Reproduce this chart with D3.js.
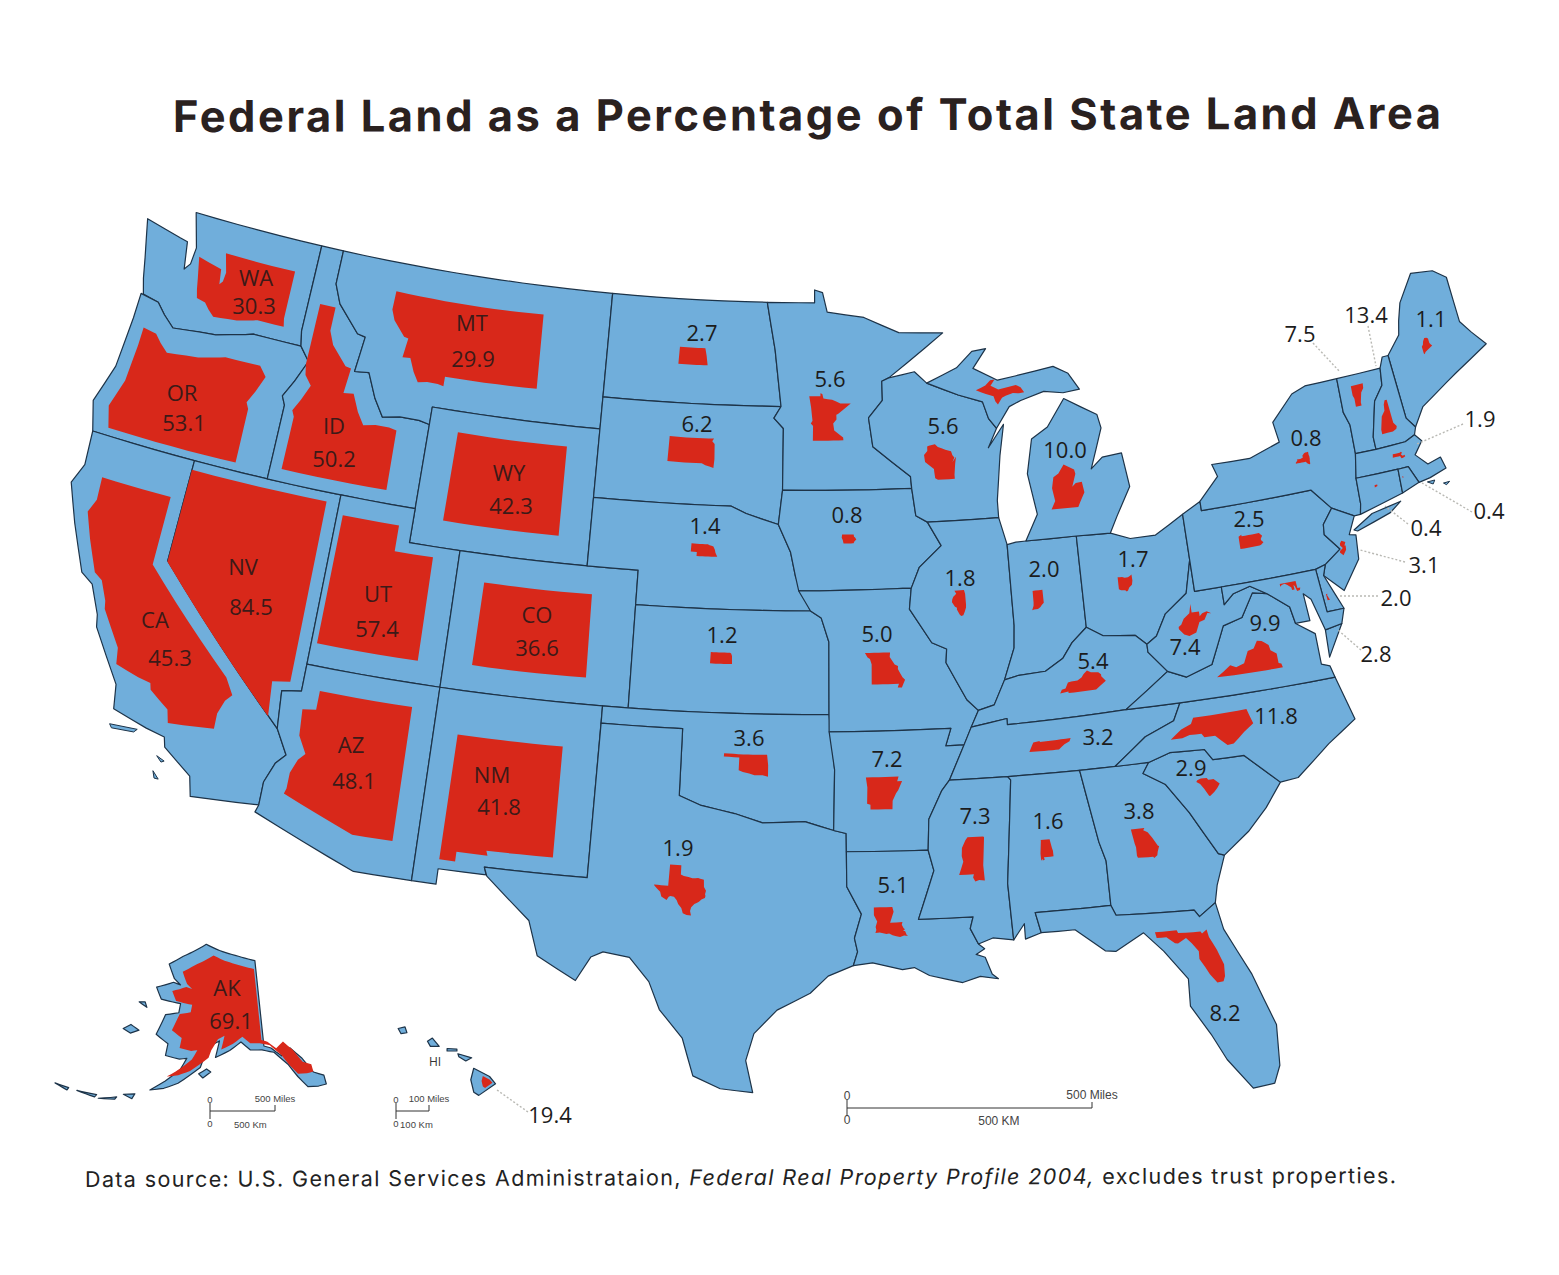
<!DOCTYPE html>
<html><head><meta charset="utf-8">
<script src="https://cdn.jsdelivr.net/npm/d3@7/dist/d3.min.js"></script>
<style>html,body{margin:0;background:#fff}svg{display:block}</style></head><body>
<svg id="c" width="1559" height="1275"></svg>
<script>
// ---- values
const stateCodes = ["WA","OR","CA","NV","ID","MT","WY","UT","CO","AZ","NM","ND","SD","NE","KS","OK","TX","MN","IA","MO","AR","LA","WI","IL","IN","OH","MI","KY","TN","MS","AL","GA","FL","SC","NC","VA","WV","PA","NY","ME","VT","NH","MA","CT","RI","NJ","DE","MD","AK","HI"];
const federalPct = [30.3,53.1,45.3,84.5,50.2,29.9,42.3,57.4,36.6,48.1,41.8,2.7,6.2,1.4,1.2,3.6,1.9,5.6,0.8,5.0,7.2,5.1,5.6,1.8,2.0,1.7,10.0,5.4,3.2,7.3,1.6,3.8,8.2,2.9,11.8,9.9,7.4,2.5,0.8,1.1,7.5,13.4,1.9,0.4,0.4,3.1,2.0,2.8,69.1,19.4];
const namedStates = ["WA","OR","CA","NV","ID","MT","WY","UT","CO","AZ","NM","AK"];

// ---- state outlines as lon,lat rings
const outlines = {
WA:["-124.7,48.4 -123.1,48.15 -122.75,48.1 -122.55,47.3 -122.35,47.5 -122.3,48.0 -122.75,49 -117.03,49 -117.04,46.42 -116.92,45.99 -118.98,46 -119.3,45.93 -120.5,45.7 -121.2,45.65 -122.3,45.55 -122.8,45.85 -123.2,46.15 -123.9,46.25 -124.1,46.7 -124.3,47.3"],
OR:["-124,46.25 -123.2,46.15 -122.8,45.85 -122.3,45.55 -121.2,45.65 -120.5,45.7 -119.3,45.93 -118.98,46 -116.92,45.99 -116.47,45.6 -116.85,44.95 -117.2,44.45 -117.03,44.2 -117.03,42 -124.2,42 -124.55,42.85 -124.1,44 -124,45.5"],
CA:["-124.2,42 -120,42 -120,39 -114.63,35 -114.13,34.3 -114.45,34 -114.72,33.4 -114.72,32.72 -117.12,32.53 -117.3,33.1 -118.4,33.75 -118.5,34.03 -119.2,34.15 -120.5,34.45 -120.65,35.15 -121.9,36.6 -122,36.95 -122.5,37.75 -123,38 -123.8,39.3 -124.4,40.4 -124.1,41"],
NV:["-120,42 -114.04,42 -114.04,36.2 -114.75,36.1 -114.63,35 -120,39"],
ID:["-117.03,49 -116.05,49 -116.05,48 -115.7,47.45 -114.7,46.7 -114.35,46.65 -114.5,45.6 -113.9,45.65 -113.45,44.95 -113,44.45 -112.3,44.55 -111.5,44.55 -111.05,44.48 -111.05,42 -117.03,42 -117.03,44.2 -117.2,44.45 -116.85,44.95 -116.47,45.6 -116.92,45.99 -117.04,46.42"],
MT:["-116.05,49 -104.05,49 -104.05,45 -111.05,45 -111.05,44.48 -111.5,44.55 -112.3,44.55 -113,44.45 -113.45,44.95 -113.9,45.65 -114.5,45.6 -114.35,46.65 -114.7,46.7 -115.7,47.45 -116.05,48"],
WY:["-111.05,45 -104.05,45 -104.05,41 -111.05,41"],
UT:["-114.04,42 -111.05,42 -111.05,41 -109.05,41 -109.05,37 -114.04,37"],
CO:["-109.05,41 -102.05,41 -102.05,37 -109.05,37"],
AZ:["-114.04,37 -109.05,37 -109.05,31.33 -111.07,31.33 -114.8,32.5 -114.72,32.72 -114.72,33.4 -114.45,34 -114.13,34.3 -114.63,35 -114.75,36.1 -114.04,36.2"],
NM:["-109.05,37 -103,37 -103.04,32 -106.62,32 -106.53,31.78 -108.2,31.78 -108.2,31.33 -109.05,31.33"],
ND:["-104.05,49 -97.23,49 -96.85,47.6 -96.56,45.94 -104.05,45.94"],
SD:["-104.05,45.94 -96.56,45.94 -96.85,45.6 -96.45,45.3 -96.45,43.5 -96.6,42.5 -97.9,42.8 -98.5,43 -104.05,43"],
NE:["-104.05,43 -98.5,43 -97.9,42.8 -96.6,42.5 -96.1,41.7 -95.9,41 -95.31,40 -102.05,40 -102.05,41 -104.05,41"],
KS:["-102.05,40 -95.31,40 -94.9,39.8 -94.61,39.1 -94.62,37 -102.05,37"],
OK:["-103,37 -94.62,37 -94.43,35.4 -94.48,33.64 -95.5,33.9 -97,33.85 -98,34.1 -99.2,34.3 -100,34.56 -100,36.5 -103,36.5"],
TX:["-106.62,32 -103.04,32 -103,36.5 -100,36.5 -100,34.56 -99.2,34.3 -98,34.1 -97,33.85 -95.5,33.9 -94.48,33.64 -94.04,33.55 -94.04,32 -93.55,31.2 -93.8,30.5 -93.7,30.1 -93.85,29.7 -94.7,29.4 -95.3,28.9 -96.4,28.4 -97.15,27.7 -97.4,26.9 -97.15,25.96 -98.2,26.05 -99.1,26.4 -99.5,27.5 -100.3,28.3 -100.7,29.1 -101.4,29.77 -102.3,29.88 -102.7,29.7 -103.15,28.98 -104.5,29.6 -104.9,30.6 -106.5,31.75"],
MN:["-97.23,49 -95.15,49 -95.15,49.38 -94.8,49.3 -94.6,48.72 -93,48.55 -91.5,48.07 -89.6,48 -92,46.75 -92.3,46.66 -92.3,46.1 -92.9,45.6 -92.75,44.75 -91.25,43.85 -91.22,43.5 -96.45,43.5 -96.45,45.3 -96.85,45.6 -96.56,45.94 -96.85,47.6"],
IA:["-96.45,43.5 -91.22,43.5 -91.1,42.7 -90.65,42.5 -90.15,41.8 -91.05,41.2 -91.4,40.6 -91.73,40.61 -95.77,40.58 -95.9,41 -96.1,41.7 -96.6,42.5"],
MO:["-95.77,40.58 -91.73,40.61 -91.4,40.6 -91.5,40 -90.7,39 -90.15,38.8 -90.2,38.4 -89.5,37.3 -89.1,36.97 -89.4,36.5 -89.7,36 -90.37,36 -90.15,36.5 -94.62,36.5 -94.62,37 -94.61,39.1 -94.9,39.8 -95.31,40"],
AR:["-94.62,36.5 -90.15,36.5 -90.37,36 -89.7,36 -90.3,35 -90.6,34.7 -91.1,33.9 -91.17,33 -94.04,33.02 -94.04,33.55 -94.48,33.64 -94.43,35.4"],
LA:["-94.04,33.02 -91.17,33 -91,32.4 -91.6,31 -89.73,31 -89.85,30.66 -89.6,30.2 -89.4,30.05 -89.7,29.9 -89.4,29.8 -89.2,29.3 -89,29.15 -89.6,29.25 -90.2,29.1 -91.3,29.35 -91.8,29.6 -92.2,29.55 -93.2,29.77 -93.85,29.7 -93.7,30.1 -93.8,30.5 -93.55,31.2 -94.04,32"],
MS:["-91.17,33 -91.1,33.9 -90.6,34.7 -90.3,35 -88.2,35 -88.1,34.9 -88.47,31.9 -88.4,30.25 -89.1,30.35 -89.6,30.2 -89.85,30.66 -89.73,31 -91.6,31 -91,32.4"],
AL:["-88.2,35 -85.6,35 -85.18,32.87 -85,32.3 -85,31 -87.6,31 -87.45,30.4 -88,30.25 -88,30.7 -88.4,30.25 -88.47,31.9 -88.1,34.9"],
GA:["-85.6,35 -83.1,35 -83.35,34.7 -82.6,34.3 -81.9,33.4 -81.1,32.1 -80.9,32.03 -81.3,31.2 -81.45,30.7 -82.05,30.36 -82.2,30.57 -84.86,30.7 -85,31 -85,32.3 -85.18,32.87"],
FL:["-87.6,31 -85,31 -84.86,30.7 -82.2,30.57 -82.05,30.36 -81.45,30.7 -81.3,29.9 -80.6,28.5 -80.05,26.9 -80.15,25.7 -80.4,25.2 -81.1,25.15 -81.8,26.1 -82.2,26.9 -82.75,27.8 -82.7,28.6 -83.4,29.5 -84,30.1 -85,29.65 -85.35,29.7 -86.3,30.4 -87.45,30.4"],
SC:["-83.1,35 -82.3,35.2 -81.05,35.15 -80.8,34.82 -79.67,34.8 -78.55,33.86 -79.2,33.2 -79.95,32.6 -80.9,32.03 -81.1,32.1 -81.9,33.4 -82.6,34.3 -83.35,34.7"],
NC:["-84.32,35 -83.1,35 -82.3,35.2 -81.05,35.15 -80.8,34.82 -79.67,34.8 -78.55,33.86 -77.9,33.9 -76.6,34.7 -75.5,35.25 -75.9,36.55 -81.68,36.59 -82,36.1 -83.1,35.75"],
TN:["-90.3,35 -88.2,35 -85.6,35 -84.32,35 -83.1,35.75 -82,36.1 -81.68,36.59 -83.68,36.6 -88.07,36.5 -88.07,36.68 -89.4,36.5 -89.7,36"],
KY:["-89.4,36.5 -88.07,36.68 -88.07,36.5 -83.68,36.6 -81.97,37.54 -82.6,38.17 -82.6,38.4 -83,38.7 -84.2,38.8 -84.8,39.1 -85.4,38.7 -85.8,38.28 -86.5,37.95 -87.5,37.9 -88.05,37.8 -88.5,37.1 -89.1,36.97"],
IL:["-90.65,42.5 -87.8,42.5 -87.55,41.7 -87.53,39.35 -87.6,38.7 -88.05,37.8 -88.5,37.1 -89.1,36.97 -89.5,37.3 -90.2,38.4 -90.15,38.8 -90.7,39 -91.5,40 -91.4,40.6 -91.05,41.2 -90.15,41.8"],
IN:["-87.55,41.7 -87.2,41.75 -86.8,41.76 -84.8,41.76 -84.8,39.1 -85.4,38.7 -85.8,38.28 -86.5,37.95 -87.5,37.9 -88.05,37.8 -87.6,38.7 -87.53,39.35"],
OH:["-84.8,41.76 -83.45,41.73 -82.7,41.5 -81.7,41.5 -80.52,41.98 -80.52,40.64 -80.85,39.7 -81.75,39.2 -82.2,38.6 -82.6,38.4 -83,38.7 -84.2,38.8 -84.8,39.1"],
MI:["-86.8,41.76 -84.8,41.76 -83.45,41.73 -83.1,42.2 -82.45,43 -82.6,44 -83.4,43.95 -83.9,43.65 -83.3,44.8 -83.4,45.2 -84.7,45.78 -85.5,45 -86.2,44.7 -86.5,43.7 -86.25,42.5",
    "-90.4,46.55 -89.1,46.95 -88.4,47.4 -87.8,47.45 -88.4,46.9 -87.4,46.5 -85,46.75 -84.4,46.5 -84,46 -84.7,45.95 -85.5,46.05 -86.5,45.85 -87,45.7 -87.6,45.1 -87.9,45.4 -88.1,45.9 -89.1,46.15"],
WI:["-92.3,46.66 -92,46.75 -90.9,46.9 -90.4,46.55 -89.1,46.15 -88.1,45.9 -87.9,45.4 -87.6,45.1 -88,44.55 -87.3,45.2 -87.55,44.3 -87.8,43 -87.8,42.5 -90.65,42.5 -91.1,42.7 -91.22,43.5 -91.25,43.85 -92.75,44.75 -92.9,45.6 -92.3,46.1"],
PA:["-80.52,41.98 -79.76,42.27 -79.76,42 -75.35,42 -74.7,41.36 -75.15,40.95 -75.2,40.65 -74.72,40.15 -75.4,39.8 -75.8,39.72 -80.52,39.72"],
NY:["-79.76,42 -79.76,42.27 -78.9,42.9 -79.05,43.27 -77.5,43.25 -76.2,43.55 -76.3,44.15 -75.3,44.85 -74.7,45 -73.35,45 -73.4,44 -73.25,43.6 -73.3,42.75 -73.5,42.05 -73.55,41.3 -73.65,41 -73.9,41 -74.7,41.36 -75.35,42",
    "-74.03,40.6 -73.2,40.95 -72,41.1 -72.5,40.85 -73.9,40.55"],
NJ:["-74.7,41.36 -73.9,41 -74.25,40.5 -74,40.45 -74.1,39.75 -74.9,38.95 -75.55,39.5 -75.4,39.8 -74.72,40.15 -75.2,40.65 -75.15,40.95"],
DE:["-75.8,39.72 -75.4,39.8 -75.55,39.5 -75.05,38.45 -75.7,38.45"],
MD:["-79.48,39.72 -75.8,39.72 -75.7,38.45 -75.05,38.45 -75.25,38.03 -75.9,37.95 -76.2,38.9 -76.45,39.1 -76.4,38.3 -76.95,38.3 -77.05,38.8 -77.5,39.1 -77.8,39.3 -78.4,39.6 -79.07,39.47 -79.48,39.2"],
VA:["-83.68,36.6 -81.68,36.59 -75.9,36.55 -76,36.9 -76.3,37 -76.3,37.9 -76.95,38.3 -77.05,38.8 -77.5,39.1 -77.8,39.3 -78.35,39.4 -78.9,38.75 -79.65,38.6 -80.3,37.55 -81.3,37.3 -81.97,37.54",
    "-75.25,38.03 -75.9,37.95 -75.95,37.15"],
WV:["-82.6,38.17 -81.97,37.54 -81.3,37.3 -80.3,37.55 -79.65,38.6 -78.9,38.75 -78.35,39.4 -77.8,39.3 -78.4,39.6 -79.07,39.47 -79.48,39.2 -79.48,39.72 -80.52,39.72 -80.52,40.64 -80.85,39.7 -81.75,39.2 -82.2,38.6 -82.6,38.4"],
VT:["-73.35,45 -71.5,45 -71.6,44.5 -72.05,44.1 -72.45,43.1 -72.46,42.73 -73.3,42.75 -73.25,43.6 -73.4,44"],
NH:["-71.5,45 -71.3,45.3 -71.05,45.3 -70.98,43.4 -70.7,43.08 -70.82,42.87 -71.25,42.74 -72.46,42.73 -72.45,43.1 -72.05,44.1 -71.6,44.5"],
ME:["-71.05,45.3 -70.4,45.8 -70.25,46.2 -70,46.7 -69.23,47.45 -68.3,47.35 -67.8,47.05 -67.8,45.7 -67.45,45.3 -67,44.85 -68.5,44.3 -69,44.1 -70.2,43.6 -70.7,43.08 -70.98,43.4"],
MA:["-73.5,42.05 -73.3,42.75 -72.46,42.73 -71.25,42.74 -70.82,42.87 -70.6,42.65 -71,42.3 -70.6,41.95 -70.05,42.05 -69.95,41.7 -70.65,41.55 -71.12,41.5 -71.38,42.02 -71.8,42.02"],
RI:["-71.8,42.02 -71.38,42.02 -71.12,41.5 -71.85,41.32"],
CT:["-73.5,42.05 -71.8,42.02 -71.85,41.32 -73.65,41 -73.55,41.3"],
AK:["-141,69.6 -141,60.3 -139.5,60 -137.5,59 -135.5,59.7 -133.5,58.4 -131.8,56.6 -130,56 -130,55 -131.5,55 -133.5,55.2 -135,56.5 -136.5,58 -139,59.5 -141.5,59.9 -144,60 -146,60.9 -148.5,60 -151.5,59.2 -150.8,61 -152.5,60.5 -154,59 -154.5,58 -156.5,57 -158.5,56 -161,55.2 -163.5,54.7 -161,56 -158.5,57.5 -157.5,58.8 -159,58.6 -162,58.7 -162,60 -165,60.7 -164,63 -161,63.5 -161,64.5 -166,64.5 -168,65.6 -164,66.6 -162,66.5 -164,67 -166.5,68.4 -163,69.6 -156.5,71.35 -152,70.8 -146,70.2",
    "-154.7,57.3 -153.2,57.9 -152.3,57.6 -153.8,56.9","-172.3,60.2 -170.5,60 -168.9,60.6 -171,60.9","-171,63.5 -168.8,63.2 -169.6,63.7","-168,53.5 -166,53.9 -166.3,53.3","-176,52.1 -172.5,52.5 -172.7,52.2","-180,51.8 -177.5,52 -177.6,51.7","-172,52.2 -169,53 -169.2,52.7"],
HI:["-155.9,20.25 -155.1,19.85 -154.8,19.5 -155.65,18.95 -155.9,19.1 -156.05,19.7",
    "-156.7,20.95 -156,20.75 -156.3,20.6 -156.65,20.8","-157.25,21.2 -156.75,21.17 -156.75,21.08 -157.25,21.08","-158.25,21.55 -158,21.7 -157.65,21.3 -158.1,21.3","-159.75,22.15 -159.4,22.23 -159.3,21.95 -159.6,21.9"],
};
const offshore = ["-120.5,34 -119.5,34.05 -119.6,33.95 -120.4,33.9","-118.6,33.45 -118.3,33.35 -118.4,33.3","-118.6,33 -118.35,32.8 -118.5,32.8","-70.8,41.45 -70.5,41.45 -70.6,41.35","-70.2,41.3 -69.95,41.3 -70.1,41.23"];

// ---- layout: where each red inset and label sits on the page
const insetCentres = {WA:[246,290],OR:[187,395],CA:[160,603],NV:[247,593],ID:[339,397],MT:[468,340],WY:[505,484],UT:[375,588],CO:[532,630],AZ:[348,766],NM:[501,798],ND:[693,356],SD:[691,452],NE:[704,550],KS:[721,658],OK:[746,765],TX:[680,890],MN:[830,417],IA:[849,539],MO:[885,670],AR:[884,793],LA:[891,922],WI:[940,462],IL:[959,603],IN:[1038,600],OH:[1125,583],MI:[1068,487],KY:[1083,682],TN:[1050,745],MS:[972,859],AL:[1047,850],GA:[1145,843],FL:[1190,956],SC:[1208,787],NC:[1212,727],VA:[1250,659],WV:[1195,620],PA:[1251,541],NY:[1303,458],ME:[1427,346],VT:[1357,395],NH:[1389,417],MA:[1399,455],CT:[1376,486],RI:[1403,477],NJ:[1343,548],DE:[1328,597],MD:[1290,586],AK:[240,1016],HI:[487,1082]};
const upperMichiganCentre = [1000,392];
const labelSpots = {WA:[254,305],OR:[184,422],CA:[170,657],NV:[251,606],ID:[334,458],MT:[473,358],WY:[511,505],UT:[377,628],CO:[537,647],AZ:[354,780],NM:[499,806],AK:[231,1020],ND:[702,332],SD:[697,423],NE:[705,525],KS:[722,634],OK:[749,737],TX:[678,847],MN:[830,378],IA:[847,514],MO:[877,633],AR:[887,758],LA:[893,884],WI:[943,425],IL:[960,577],IN:[1044,568],OH:[1133,558],MI:[1065,449],KY:[1093,660],TN:[1098,736],MS:[975,815],AL:[1048,820],GA:[1139,810],FL:[1225,1012],SC:[1191,767],NC:[1276,715],VA:[1265,622],WV:[1185,646],PA:[1249,518],NY:[1306,437],ME:[1431,318],VT:[1300,333],NH:[1366,314],MA:[1480,418],RI:[1489,510],CT:[1426,527],NJ:[1424,564],DE:[1396,597],MD:[1376,653],HI:[550,1114]};
const nameSpots = {WA:[256,277],OR:[182,392],CA:[155,619],NV:[243,566],ID:[334,425],MT:[472,322],WY:[509,472],UT:[378,593],CO:[537,614],AZ:[351,744],NM:[492,774],AK:[227,987]};
const leaders = [[1313,343,1340,372],[1368,326,1376,366],[1463,424,1417,444],[1472,512,1422,483],[1408,524,1385,506],[1405,562,1360,550],[1378,596,1338,596],[1361,650,1338,630],[528,1112,497,1090]];

const BLUE="#70aedb", RED="#d8281a", INK="#1d3348";
const ring = s => s.trim().split(/\s+/).map(p=>p.split(",").map(Number));
function dense(r){ // follow parallels and meridians rather than great circles
  const out=[]; r.forEach((p,i)=>{const q=r[(i+1)%r.length];const n=Math.ceil(Math.max(Math.abs(q[0]-p[0]),Math.abs(q[1]-p[1])));
    d3.range(n).forEach(k=>out.push([p[0]+(q[0]-p[0])*k/n,p[1]+(q[1]-p[1])*k/n]));}); out.push(out[0]); return out;}
function geo(r){let g={type:"Polygon",coordinates:[dense(r)]}; if(d3.geoArea(g)>2*Math.PI) g.coordinates[0].reverse(); return g;}

const lower48 = d3.geoConicEqualArea().parallels([29.5,45.5]).rotate([96,0]).center([0,38]).scale(1960).translate([792,680]).angle(-0.5).precision(.1);
const alaska = d3.geoConicEqualArea().parallels([55,65]).rotate([148,0]).center([0,63.5]).scale(530).translate([232,1018]).precision(.1);
const hawaii = d3.geoConicEqualArea().parallels([8,18]).rotate([157,0]).center([0,20.6]).scale(1200).translate([452,1061]).precision(.1);
const pathFor = c => d3.geoPath(c==="AK"?alaska:c==="HI"?hawaii:lower48);

const svg=d3.select("#c");
svg.append("rect").attr("width",1559).attr("height",1275).attr("fill","#fff");

// base map
const base=svg.append("g");
base.selectAll("path.state").data(stateCodes.flatMap(c=>outlines[c].map(s=>({c,g:geo(ring(s))})))).join("path")
  .attr("class","state").attr("d",d=>pathFor(d.c)(d.g)).attr("fill",BLUE).attr("stroke",INK).attr("stroke-width",1.2).attr("stroke-linejoin","round");
base.selectAll("path.off").data(offshore.map(s=>geo(ring(s)))).join("path").attr("class","off")
  .attr("d",d3.geoPath(lower48)).attr("fill",BLUE).attr("stroke",INK).attr("stroke-width",1);

// red insets: the state's own outline, area scaled to its federal share
const insets=stateCodes.map((c,i)=>({c,pct:federalPct[i],ring:0,at:insetCentres[c]}));
insets.push({c:"MI",pct:federalPct[stateCodes.indexOf("MI")],ring:1,at:upperMichiganCentre});
svg.append("g").selectAll("path").data(insets).join("path").each(function(d){
  const g=geo(ring(outlines[d.c][d.ring])),p=pathFor(d.c),b=p.bounds(g),k=Math.sqrt(d.pct/100);
  const cx=(b[0][0]+b[1][0])/2,cy=(b[0][1]+b[1][1])/2;
  d3.select(this).attr("d",p(g)).attr("fill",RED)
    .attr("transform",`translate(${d.at[0]},${d.at[1]}) scale(${k}) translate(${-cx},${-cy})`);
});

// leader lines
svg.append("g").selectAll("line").data(leaders).join("line")
  .attr("x1",d=>d[0]).attr("y1",d=>d[1]).attr("x2",d=>d[2]).attr("y2",d=>d[3])
  .attr("stroke","#b9b9b4").attr("stroke-width",1.4).attr("stroke-dasharray","2 2");

// labels
const F="'Open Sans','Noto Sans',sans-serif";
const lab=svg.append("g").attr("font-family",F).attr("font-size",22).attr("text-anchor","middle").attr("dominant-baseline","central");
lab.selectAll("text.v").data(stateCodes).join("text").attr("class","v")
  .attr("x",c=>labelSpots[c][0]).attr("y",c=>labelSpots[c][1])
  .attr("fill",c=>namedStates.includes(c)?"#3c1a18":"#1c1c1c")
  .text((c,i)=>federalPct[i].toFixed(1));
lab.selectAll("text.n").data(namedStates).join("text").attr("class","n")
  .attr("x",c=>nameSpots[c][0]).attr("y",c=>nameSpots[c][1]).attr("fill","#3c1a18").text(c=>c);
svg.append("text").attr("x",435).attr("y",1066).attr("font-family",F).attr("font-size",12).attr("fill","#333").attr("text-anchor","middle").text("HI");

// scale bars
const bars=[{x:847,w:245,tm:"500 Miles",tk:"500 KM",y:1108,fs:12},{x:210,w:65,tm:"500 Miles",tk:"500 Km",y:1111,fs:9.5},{x:396,w:33,tm:"100 Miles",tk:"100 Km",y:1111,fs:9.5}];
const sb=svg.append("g").attr("font-family","'Liberation Sans',sans-serif").attr("fill","#444");
bars.forEach(b=>{
  const g=sb.append("g");
  g.append("line").attr("x1",b.x).attr("x2",b.x+b.w).attr("y1",b.y).attr("y2",b.y).attr("stroke","#333").attr("stroke-width",1);
  g.append("line").attr("x1",b.x).attr("x2",b.x).attr("y1",b.y-8).attr("y2",b.y+8).attr("stroke","#333").attr("stroke-width",1);
  g.append("line").attr("x1",b.x+b.w).attr("x2",b.x+b.w).attr("y1",b.y-6).attr("y2",b.y).attr("stroke","#333");
  g.append("text").attr("x",b.x).attr("y",b.y-8).attr("font-size",b.fs).attr("text-anchor","middle").text("0");
  g.append("text").attr("x",b.x).attr("y",b.y+16).attr("font-size",b.fs).attr("text-anchor","middle").text("0");
  g.append("text").attr("x",b.x+b.w).attr("y",b.y-9).attr("font-size",b.fs).attr("text-anchor","middle").text(b.tm);
  g.append("text").attr("x",b.x+b.w*0.62).attr("y",b.y+17).attr("font-size",b.fs).attr("text-anchor","middle").text(b.tk);
});

// title and source
svg.append("text").attr("x",173).attr("y",132).attr("transform","rotate(-0.15 173 132)")
  .attr("font-family","Inter,'Open Sans',sans-serif").attr("font-weight",700).attr("font-size",43.5).attr("fill","#2a211f")
  .attr("textLength",1268).attr("lengthAdjust","spacing").text("Federal Land as a Percentage of Total State Land Area");
const src=svg.append("text").attr("x",85).attr("y",1187).attr("transform","rotate(-0.17 85 1187)")
  .attr("font-family","Inter,'Open Sans',sans-serif").attr("font-size",21.5).attr("fill","#222").attr("textLength",1311).attr("lengthAdjust","spacing");
src.append("tspan").text("Data source: U.S. General Services Administrataion, ");
src.append("tspan").attr("font-style","italic").text("Federal Real Property Profile 2004,");
src.append("tspan").text(" excludes trust properties.");
</script></body></html>
